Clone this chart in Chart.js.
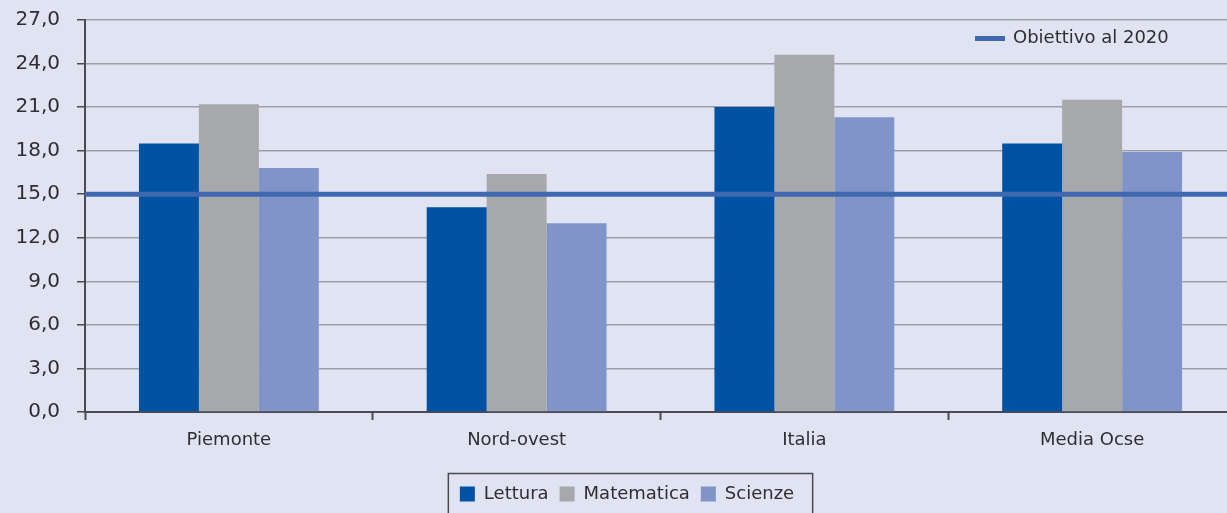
<!DOCTYPE html>
<html>
<head>
<meta charset="utf-8">
<script src="https://cdn.jsdelivr.net/npm/chart.js@4.4.1/dist/chart.umd.min.js"></script>
<style>
  html, body { margin: 0; padding: 0; background: #e0e3f2; overflow: hidden; }
  #clip { width: 1227px; height: 513px; overflow: hidden; }
  #wrap { width: 1236px; height: 513px; position: relative; }
</style>
</head>
<body>
<div id="clip"><div id="wrap"><canvas id="myChart"></canvas></div></div>
<script>
//DATA
var categories = ["Piemonte", "Nord-ovest", "Italia", "Media Ocse"];
var lettura    = [18.5, 14.1, 21.0, 18.5];
var matematica = [21.2, 16.4, 24.6, 21.5];
var scienze    = [16.8, 13.0, 20.3, 17.9];
var obiettivo  = 15.0;
var obiettivoLabel = 'Obiettivo al 2020';
var yTicks     = [0, 3, 6, 9, 12, 15, 18, 21, 24, 27];

var textColor = '#2e2e33';
var lineColor = '#4068b0';
var fontFam = '"DejaVu Sans", sans-serif';

//target line across the plot + its legend top right
var targetLine = {
  id: 'targetLine',
  afterDatasetsDraw: function(chart) {
    var ctx = chart.ctx;
    var area = chart.chartArea;
    var y = chart.scales.y.getPixelForValue(obiettivo);
    ctx.save();
    ctx.strokeStyle = lineColor;
    ctx.lineWidth = 5;
    ctx.beginPath();
    ctx.moveTo(area.left, y);
    ctx.lineTo(area.right, y);
    ctx.stroke();
    //legend
    ctx.beginPath();
    ctx.moveTo(975, 38.5);
    ctx.lineTo(1005, 38.5);
    ctx.stroke();
    ctx.fillStyle = textColor;
    ctx.font = '18px ' + fontFam;
    ctx.textBaseline = 'middle';
    ctx.textAlign = 'left';
    ctx.fillText(obiettivoLabel, 1013, 38);
    ctx.restore();
  }
};

//recentre bottom legend on the visible 1227px and draw its border
var legendBorder = {
  id: 'legendBorder',
  afterLayout: function(chart) {
    chart.legend.left += 9;
    chart.legend.right += 9;
  },
  afterDraw: function(chart) {
    var boxes = chart.legend.legendHitBoxes;
    if (!boxes || !boxes.length) return;
    var l = Infinity, r = -Infinity;
    boxes.forEach(function(b){ l = Math.min(l, b.left); r = Math.max(r, b.left + b.width); });
    var ctx = chart.ctx;
    ctx.save();
    ctx.strokeStyle = '#4a4a50';
    ctx.lineWidth = 1.5;
    ctx.strokeRect(l - 11.5, 473.5, (r - l) + 30, 50);
    ctx.restore();
  }
};

var ctx = document.getElementById('myChart').getContext('2d');
var myChart = new Chart(ctx, {
  type: 'bar',
  data: {
    labels: categories,
    datasets: [
      { label: 'Lettura', data: lettura, backgroundColor: '#0052a3' },
      { label: 'Matematica', data: matematica, backgroundColor: '#a7a8ab' },
      { label: 'Scienze', data: scienze, backgroundColor: '#8094c8' }
    ]
  },
  options: {
    responsive: true,
    maintainAspectRatio: false,
    animation: false,
    layout: { padding: { top: 20, right: 0, left: 0, bottom: 0 } },
    barPercentage: 1.0,
    categoryPercentage: 0.625,
    plugins: {
      tooltip: { enabled: false },
      legend: {
        position: 'bottom',
        labels: {
          font: { size: 18, family: fontFam },
          color: textColor,
          boxWidth: 15,
          boxHeight: 15,
          padding: 11
        }
      }
    },
    scales: {
      x: {
        grid: {
          drawOnChartArea: false,
          tickLength: 8,
          tickColor: '#4a4a50',
          tickWidth: 2
        },
        border: { color: '#4a4a50', width: 2 },
        ticks: { color: textColor, font: { size: 18, family: fontFam }, padding: 10 },
        afterFit: function(scale) { scale.height = 62; scale.paddingLeft = 0; scale.paddingRight = 0; }
      },
      y: {
        min: 0,
        max: 27,
        afterBuildTicks: function(scale) {
          scale.ticks = yTicks.map(function(v){ return {value: v}; });
        },
        ticks: {
          color: textColor,
          font: { size: 20, family: fontFam },
          padding: 17,
          callback: function(v) { return v.toFixed(1).replace('.', ','); }
        },
        grid: {
          color: '#9d9fa8',
          lineWidth: 1.5,
          tickLength: 8,
          tickColor: '#4a4a50'
        },
        border: { color: '#4a4a50', width: 2 },
        afterFit: function(scale) { scale.width = 85; scale.paddingTop = 0; scale.paddingBottom = 0; }
      }
    }
  },
  plugins: [targetLine, legendBorder]
});
</script>
</body>
</html>
